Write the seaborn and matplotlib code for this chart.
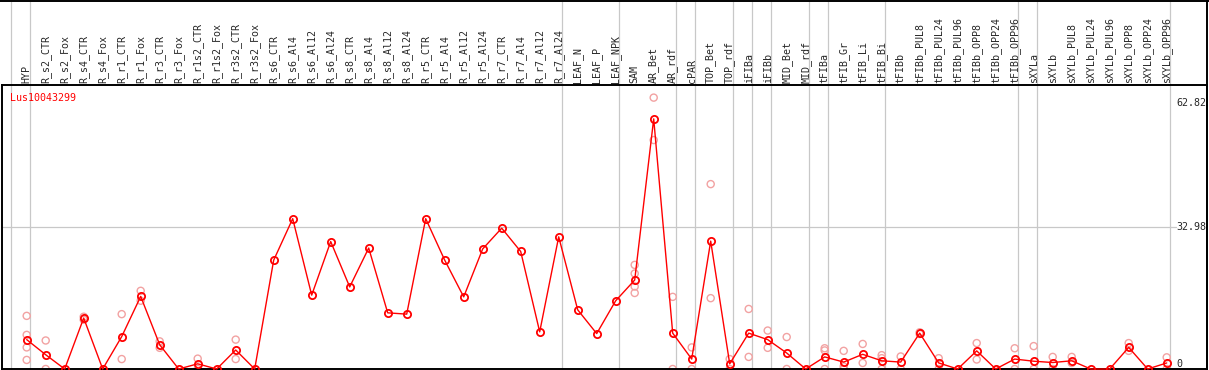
import numpy as np
import pandas as pd
import matplotlib
matplotlib.use("Agg")
import matplotlib.pyplot as plt
import seaborn as sns

# sample names (top labels)
samples = ["HYP", "R_s2_CTR", "R_s2_Fox", "R_s4_CTR", "R_s4_Fox", "R_r1_CTR", "R_r1_Fox",
           "R_r3_CTR", "R_r3_Fox", "R_r1s2_CTR", "R_r1s2_Fox", "R_r3s2_CTR", "R_r3s2_Fox",
           "R_s6_CTR", "R_s6_Al4", "R_s6_Al12", "R_s6_Al24", "R_s8_CTR", "R_s8_Al4",
           "R_s8_Al12", "R_s8_Al24", "R_r5_CTR", "R_r5_Al4", "R_r5_Al12", "R_r5_Al24",
           "R_r7_CTR", "R_r7_Al4", "R_r7_Al12", "R_r7_Al24", "LEAF_N", "LEAF_P", "LEAF_NPK",
           "SAM", "AR_Bet", "AR_rdf", "cPAR", "TOP_Bet", "TOP_rdf", "iFIBa", "iFIBb",
           "MID_Bet", "MID_rdf", "tFIBa", "tFIB_Gr", "tFIB_Li", "tFIB_Bi", "tFIBb",
           "tFIBb_PUL8", "tFIBb_PUL24", "tFIBb_PUL96", "tFIBb_OPP8", "tFIBb_OPP24",
           "tFIBb_OPP96", "sXYLa", "sXYLb", "sXYLb_PUL8", "sXYLb_PUL24", "sXYLb_PUL96",
           "sXYLb_OPP8", "sXYLb_OPP24", "sXYLb_OPP96"]

# mean expression per sample
means = [6.8, 3.3, 0, 11.8, 0, 7.5, 16.8, 5.6, 0, 1.2, 0, 4.4, 0,
         25.2, 34.8, 17.1, 29.5, 19.0, 28.0, 13.0, 12.7, 34.8, 25.2, 16.7, 27.8,
         32.6, 27.2, 8.6, 30.6, 13.7, 8.2, 15.8,
         20.6, 57.9, 8.3, 2.3, 29.6, 1.2, 8.3, 6.8, 3.7, 0, 2.8, 1.6, 3.4, 1.9, 1.6,
         8.3, 1.4, 0, 4.2, 0, 2.3, 1.8, 1.5, 1.9, 0, 0, 5.0, 0, 1.4]

# individual replicates (empty where only the mean is shown)
replicates = [[12.3, 7.9, 5.0, 2.1], [6.6, 0], [], [12.1, 11.4], [], [12.7, 2.3], [18.1, 15.8],
              [6.4, 4.9], [], [2.4, 0], [], [6.8, 2.3], [],
              [], [], [], [], [], [], [], [], [], [], [], [],
              [], [], [], [], [], [], [],
              [24.1, 22.1, 19.1, 17.6], [62.82, 53.0], [16.7, 0], [5.0, 0], [42.8, 16.4],
              [2.3, 0], [13.9, 2.8], [8.9, 4.9], [7.4, 0], [], [4.8, 4.3, 0], [4.2, 0.6, 0],
              [5.8, 1.4], [3.2, 2.5, 0], [2.9, 0],
              [8.5, 8.1], [2.5, 0], [], [6.0, 2.2], [], [4.8, 0], [5.3, 0], [2.8, 0],
              [2.8, 1.4], [], [], [6.0, 4.2], [], [2.7, 0]]

# number of samples in each tissue group (vertical separators)
group_sizes = [1, 28, 3, 3, 1, 2, 1, 1, 2, 1, 3, 7, 1, 7]

gene = "Lus10043299"
y_ticks = [0, 32.98, 62.82]

main_df = pd.DataFrame({"pos": np.arange(len(samples)), "value": means})
rep_df = pd.DataFrame([(i, v) for i, reps in enumerate(replicates) for v in reps],
                      columns=["pos", "value"])

sns.set_style("white")
plt.rcParams["font.family"] = ["DejaVu Sans Mono", "DejaVu Sans"]

W, H = 1209, 370
fig = plt.figure(figsize=(W / 100, H / 100), dpi=100)
# plot area: pixel rows 85..369, columns 2..1207
ax = fig.add_axes([2 / W, 1 / H, 1205 / W, 284 / H])

px_per_unit = 4.32
step = 19.0
ax.set_xlim((2 - 26.7) / step, (1207 - 26.7) / step)
ax.set_ylim(0, 284 / px_per_unit)

# separators between tissue groups, running through the header too
edges = np.cumsum([0] + group_sizes) - 1 + 3.5 / step
for e in edges:
    ax.axvline(e, ymin=0, ymax=369 / 284, color="#c8c8c8", lw=0.9, clip_on=False, zorder=0)
ax.axhline(y_ticks[1], xmin=0, xmax=(1176 - 2) / 1205, color="#c8c8c8", lw=0.9, zorder=0)

sns.scatterplot(data=rep_df, x="pos", y="value", ax=ax, marker="o", s=26,
                facecolor="none", edgecolor="#f2a2a2", linewidth=1.0, zorder=2,
                clip_on=False, legend=False)
sns.lineplot(data=main_df, x="pos", y="value", ax=ax, color="red", lw=1.0,
             marker="o", markersize=5.2, markerfacecolor="none", markeredgecolor="red",
             markeredgewidth=1.3, clip_on=False, zorder=3)

ax.xaxis.tick_top()
ax.set_xticks(main_df["pos"])
ax.set_xticklabels(samples, rotation=90, fontsize=7.2)
ax.tick_params(axis="x", length=0, pad=1.5)

ax.yaxis.tick_right()
ax.set_yticks(y_ticks)
ax.set_yticklabels(["0", "32.98", "62.82"], fontsize=7.2)
ax.tick_params(axis="y", length=0, pad=-22)
for lab, va in zip(ax.get_yticklabels(), ["bottom", "center", "top"]):
    lab.set_va(va)
ax.set_xlabel("")
ax.set_ylabel("")

for s in ax.spines.values():
    s.set_color("black")
    s.set_linewidth(1.4)

ax.text(8 / 1205, (369 - 98) / 284, gene, transform=ax.transAxes, color="red",
        fontsize=7.2, va="center", ha="left")

# outer frame of the header
fig.add_artist(plt.Line2D([0, 1], [1 - 0.7 / H] * 2, transform=fig.transFigure,
                          color="black", lw=1.4))
fig.add_artist(plt.Line2D([1207.3 / W] * 2, [0, 1], transform=fig.transFigure,
                          color="black", lw=1.4))

fig.savefig("out.png", dpi=100, facecolor="white")
